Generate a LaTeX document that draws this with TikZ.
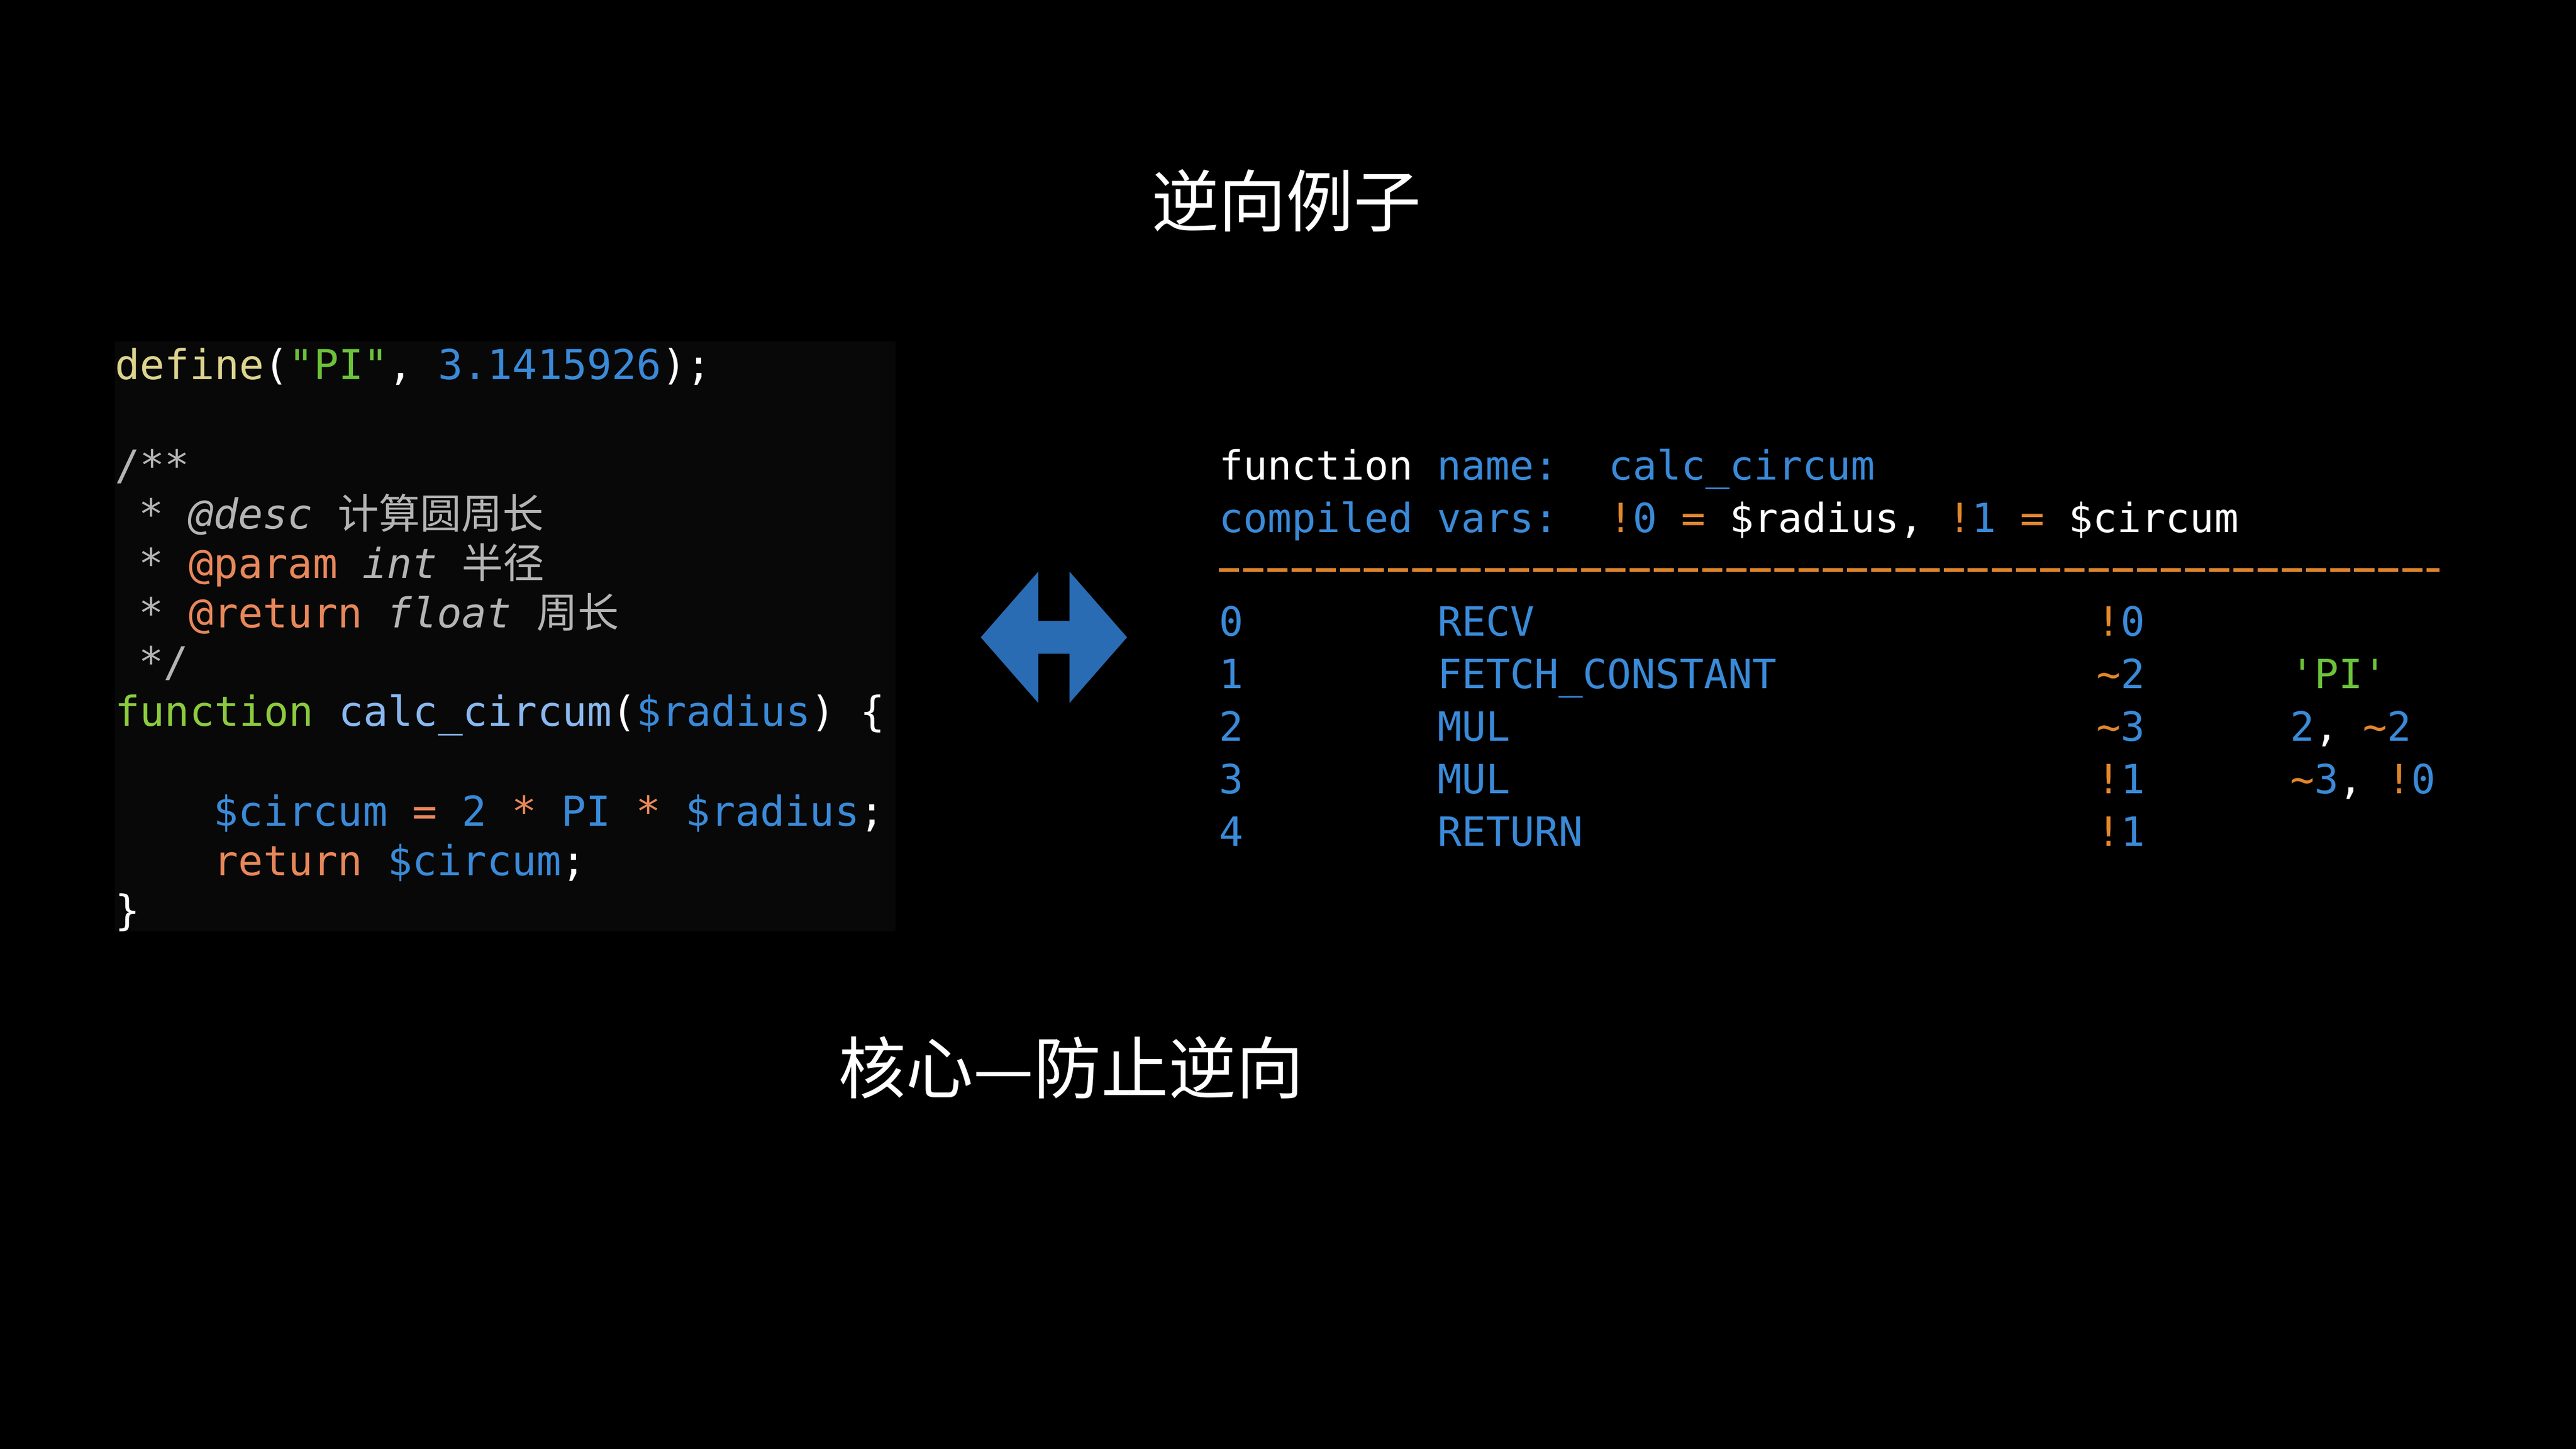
\documentclass[tikz,border=0pt]{standalone}
\usepackage{fontspec}
\usepackage{xcolor}
\setmainfont{DejaVu Sans Mono}
\newfontfamily\cjk{Noto Sans CJK SC}
\newfontfamily\mono{DejaVu Sans Mono}
\definecolor{cyel}{HTML}{DCD48E}
\definecolor{cgrn}{HTML}{6CC23A}
\definecolor{cfun}{HTML}{8CCB3E}
\definecolor{cblu}{HTML}{3A8AD8}
\definecolor{clbl}{HTML}{8AB8F0}
\definecolor{cgry}{HTML}{B4B4B4}
\definecolor{corg}{HTML}{E8875A}
\definecolor{rorg}{HTML}{E0862E}
\definecolor{arrblue}{HTML}{2A6CB4}
\definecolor{panel}{HTML}{080808}
\newcommand\tc[2]{\textcolor{#1}{#2}}
\begin{document}
\begin{tikzpicture}[x=3.265pt,y=-3.265pt,
  code/.style={anchor=base west,inner sep=0,text=white,font=\mono\fontsize{82}{98}\selectfont},
  asm/.style={anchor=base west,inner sep=0,text=cblu,font=\mono\fontsize{80}{98}\selectfont},
  title/.style={text=white,inner sep=0,font=\cjk\fontsize{134}{140}\selectfont}]
\fill[black] (0,0) rectangle (1568,882);
\useasboundingbox (0,0) rectangle (1568,882);
\fill[fill=panel] (70,208) rectangle (545,567);
\node[title] (t1) at (783,122) {逆向例子};
\node[title] (t2) at (652,650) {核心—防止逆向};
% code
\node[code] (l1) at (70,231) {\tc{cyel}{define}(\tc{cgrn}{"PI"}, \tc{cblu}{3.1415926});};
\node[code,text=cgry] (l2) at (70,292) {/**};
\node[code,text=cgry] (l3) at (84.5,322) {* \textit{@desc} {\cjk 计算圆周长}};
\node[code,text=cgry] (l4) at (84.5,352) {* \tc{corg}{@param} \textit{int} {\cjk 半径}};
\node[code,text=cgry] (l5) at (84.5,382) {* \tc{corg}{@return} \textit{float} {\cjk 周长}};
\node[code,text=cgry] (l6) at (84.5,412) {*/};
\node[code] (l7) at (70,442) {\tc{cfun}{function} \tc{clbl}{calc\_circum}(\tc{cblu}{\$radius}) \{};
\node[code] (l8) at (130,503) {\tc{cblu}{\$circum} \tc{corg}{=} \tc{cblu}{2} \tc{corg}{*} \tc{cblu}{PI} \tc{corg}{*} \tc{cblu}{\$radius};};
\node[code] (l9) at (130,533) {\tc{corg}{return} \tc{cblu}{\$circum};};
\node[code] (l10) at (70,563) {\}};
% arrow
\fill[arrblue] (597,388) -- (632,348) -- (632,378) -- (651,378) -- (651,348) -- (686,388)
  -- (651,428) -- (651,398) -- (632,398) -- (632,428) -- cycle;
% right panel
\node[asm,text=white] (h1) at (742,292) {function \tc{cblu}{name:}};
\node[asm] (h1b) at (979,292) {calc\_circum};
\node[asm] (h2) at (742,324) {compiled vars:};
\node[asm,text=white] (h2b) at (979,324) {\tc{rorg}{!}\tc{cblu}{0} \tc{rorg}{=} \$radius, \tc{rorg}{!}\tc{cblu}{1} \tc{rorg}{=} \$circum};
\draw[rorg,line width=8pt,dash pattern=on 40pt off 8pt] (742,347) -- (1485,347);
\foreach \i/\op/\r/\ex [count=\k from 0] in {0/RECV/{\tc{rorg}{!}0}/{},1/FETCH\_CONSTANT/{\tc{rorg}{\char`\~}2}/{\tc{cgrn}{'PI'}},2/MUL/{\tc{rorg}{\char`\~}3}/{2\tc{white}{,} \tc{rorg}{\char`\~}2},3/MUL/{\tc{rorg}{!}1}/{\tc{rorg}{\char`\~}3\tc{white}{,} \tc{rorg}{!}0},4/RETURN/{\tc{rorg}{!}1}/{}}{
  \node[asm] (n\k) at (742,387+32*\k) {\i};
  \node[asm] (o\k) at (875,387+32*\k) {\op};
  \node[asm] (r\k) at (1276,387+32*\k) {\r};
  \node[asm] (e\k) at (1394,387+32*\k) {\ex};
}
\end{tikzpicture}
\end{document}
